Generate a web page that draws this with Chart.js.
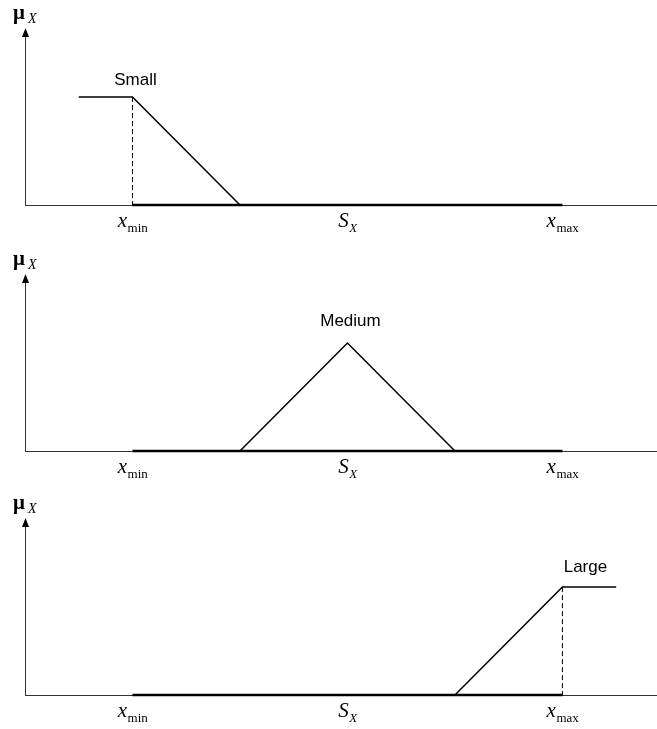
<!DOCTYPE html>
<html lang="en">
<head>
<meta charset="UTF-8">
<title>Fuzzy sets Small / Medium / Large</title>
<style>
  body { margin: 0; background: #fff; }
  .panel { position: relative; width: 657px; }
</style>
</head>
<body>
<script src="https://cdn.jsdelivr.net/npm/chart.js"></script>
<div class="panel" style="height:245px"><canvas id="c0"></canvas></div>
<div class="panel" style="height:244px"><canvas id="c1"></canvas></div>
<div class="panel" style="height:240px"><canvas id="c2"></canvas></div>
<script>
// universe of discourse S_X = [x_min, x_max]
const universe = [0, 10];

// membership functions, breakpoints
const smallX = [-1.25, 0, 2.5];
const smallY = [1, 1, 0];
const mediumX = [2.5, 5, 7.5];
const mediumY = [0, 1, 0];
const largeX = [7.5, 10, 11.25];
const largeY = [0, 1, 1];

const setNames = ['Small', 'Medium', 'Large'];

// x axis labels: value, main symbol, subscript
const tickValues = [0, 5, 10];
const tickMain = ['x', 'S', 'x'];
const tickSub = ['min', 'X', 'max'];

const serif = "'Liberation Serif', 'Times New Roman', serif";
const sans = "'Liberation Sans', Arial, sans-serif";

function pts(xs, ys) {
    return xs.map((x, i) => ({ x: x, y: ys[i] }));
}

function drawSub(ctx, main, sub, cx, y, mainFont, subFont, subDy) {
    ctx.font = mainFont;
    const w1 = ctx.measureText(main).width;
    ctx.font = subFont;
    const w2 = ctx.measureText(sub).width;
    const x0 = cx - (w1 + w2) / 2;
    ctx.font = mainFont;
    ctx.fillText(main, x0, y);
    ctx.font = subFont;
    ctx.fillText(sub, x0 + w1 + 0.5, y + subDy);
}

const axesPlugin = {
    id: 'fuzzyAxes',
    beforeDatasetsDraw(chart) {
        const ctx = chart.ctx;
        const a = chart.chartArea;
        const y0 = chart.scales.y.getPixelForValue(0);
        const xl = a.left + 0.5;
        ctx.save();
        ctx.strokeStyle = '#333';
        ctx.lineWidth = 1;
        ctx.beginPath();
        ctx.moveTo(a.left, y0 + 0.5);
        ctx.lineTo(a.right, y0 + 0.5);
        ctx.moveTo(xl, y0);
        ctx.lineTo(xl, a.top + 6);
        ctx.stroke();
        // arrow head
        ctx.fillStyle = '#000';
        ctx.beginPath();
        ctx.moveTo(xl, a.top);
        ctx.lineTo(xl - 3.5, a.top + 9);
        ctx.lineTo(xl + 3.5, a.top + 9);
        ctx.closePath();
        ctx.fill();
        ctx.restore();
    },
    afterDraw(chart, args, opts) {
        const ctx = chart.ctx;
        const xs = chart.scales.x, ys = chart.scales.y;
        const y0 = ys.getPixelForValue(0);
        ctx.save();
        ctx.fillStyle = '#000';
        ctx.textBaseline = 'alphabetic';
        // mu_X
        ctx.font = 'bold 21px ' + serif;
        ctx.fillText('\u03bc', 13, y0 - 186);
        ctx.font = 'italic 14px ' + serif;
        ctx.fillText('X', 28, y0 - 182);
        // x axis labels
        tickValues.forEach((v, i) => {
            const subFont = (tickSub[i] === 'X' ? 'italic ' : '') + '13px ' + serif;
            drawSub(ctx, tickMain[i], tickSub[i], xs.getPixelForValue(v), y0 + 22,
                'italic 21px ' + serif, subFont, 5);
        });
        // set name above its top point
        const d = chart.data.datasets[1].data;
        const top = d.find(p => p.y === 1 && p.x >= universe[0] && p.x <= universe[1]);
        ctx.font = '17px ' + sans;
        ctx.textAlign = 'center';
        ctx.fillText(opts.name, xs.getPixelForValue(top.x) + opts.dx, ys.getPixelForValue(1) + opts.dy);
        ctx.restore();
    }
};

function makePanel(id, setPts, guideX, name, axisY, height, dx, dy) {
    const datasets = [
        { data: pts(universe, [0, 0]), borderColor: '#000', borderWidth: 2.5 },
        { data: setPts, borderColor: '#000', borderWidth: 1.5 }
    ];
    if (guideX !== null) {
        datasets.push({ data: pts([guideX, guideX], [1, 0]), borderColor: '#000', borderWidth: 1, borderDash: [5, 3] });
    }
    datasets.forEach(ds => { ds.showLine = true; ds.pointRadius = 0; ds.fill = false; ds.tension = 0; ds.clip = false; });
    new Chart(document.getElementById(id), {
        type: 'scatter',
        data: { datasets: datasets },
        options: {
            responsive: true,
            maintainAspectRatio: false,
            animation: false,
            events: [],
            layout: { padding: { left: 25, right: 0, top: axisY - 177, bottom: height - axisY } },
            scales: {
                x: { type: 'linear', display: false, min: -2.5, max: 12.2 },
                y: { type: 'linear', display: false, min: 0, max: 1.64 }
            },
            plugins: {
                legend: { display: false },
                tooltip: { enabled: false },
                fuzzyAxes: { name: name, dx: dx, dy: dy }
            }
        },
        plugins: [axesPlugin]
    });
}

makePanel('c0', pts(smallX, smallY), universe[0], setNames[0], 205, 245, 3, -12);
makePanel('c1', pts(mediumX, mediumY), null, setNames[1], 206, 244, 3, -17);
makePanel('c2', pts(largeX, largeY), universe[1], setNames[2], 206, 240, 23, -15);
</script>
</body>
</html>
